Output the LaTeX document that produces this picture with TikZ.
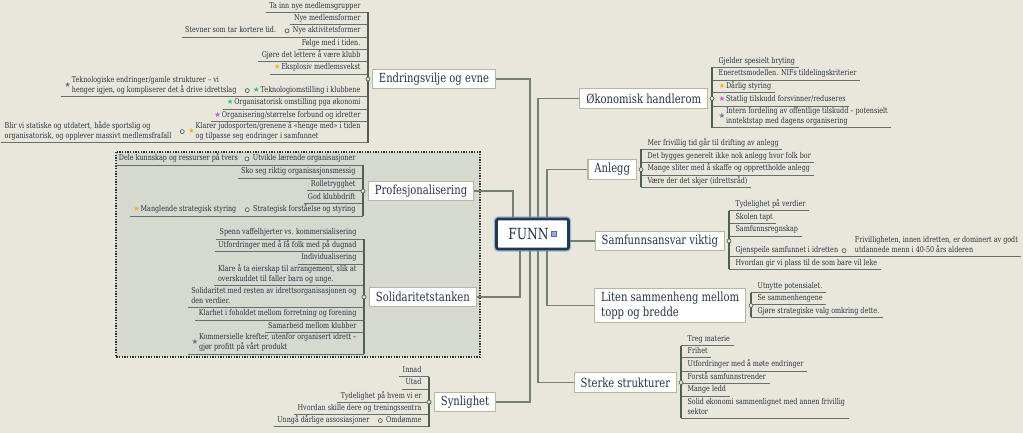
\documentclass[tikz,border=0pt]{standalone}
\usepackage{fontspec}
\setmainfont{DejaVu Serif}[FakeStretch=0.8]
\newfontfamily\starfont{DejaVu Sans}
\usetikzlibrary{positioning}
\definecolor{bg}{RGB}{233,231,220}
\definecolor{groupfill}{RGB}{213,217,207}
\definecolor{groupline}{RGB}{45,50,50}
\definecolor{ink}{RGB}{38,52,66}
\definecolor{boxline}{RGB}{185,181,160}
\definecolor{trunkcol}{RGB}{115,128,118}
\definecolor{barcol}{RGB}{78,96,86}
\definecolor{ulinecol}{RGB}{100,112,104}
\definecolor{funnline}{RGB}{35,55,78}
\definecolor{funnglow}{RGB}{150,180,215}
\definecolor{markfill}{RGB}{150,170,222}
\definecolor{markline}{RGB}{90,110,170}
\definecolor{starorange}{RGB}{242,180,40}
\definecolor{stargreen}{RGB}{40,200,120}
\definecolor{starpurple}{RGB}{200,90,210}
\definecolor{stargrey}{RGB}{110,115,150}
\newcommand{\leaffont}{\fontsize{6}{7.2}\selectfont}
\newcommand{\branchfont}{\fontsize{9.4}{11.5}\selectfont}
\newcommand{\tagstar}[1]{{\color{#1}\starfont\fontsize{5.6}{6}\selectfont ★}\hspace{0.6pt}}
\newcommand{\leaftwo}[2]{\begin{tabular}{@{}l@{}}#1\\#2\end{tabular}}

\begin{document}
\begin{tikzpicture}[x=0.75pt, y=-0.75pt,
    branch/.style={draw=boxline, fill=white, line width=0.8pt, text=ink, font=\branchfont,
      inner xsep=4.8pt, inner ysep=0pt, minimum height=14.5pt, align=left},
    leaf/.style={text=ink, font=\leaffont, inner xsep=2.5pt, inner ysep=0.8pt, execute at end node=\strut},
    lleaf/.style={leaf, anchor=south east},
    rleaf/.style={leaf, anchor=south west},
    uline/.style={draw=ulinecol, line width=0.6pt},
    bar/.style={draw=barcol, line width=0.9pt},
    trunk/.style={draw=trunkcol, line width=0.8pt},
    knob/.style={circle, draw=barcol, fill=bg, line width=0.5pt, inner sep=0pt, minimum size=3pt},
    funnbox/.style={draw=funnline, line width=2pt, fill=white, rounded corners=1.5pt,
      minimum width=54pt, minimum height=22.5pt,
      preaction={draw=funnglow, line width=4pt, rounded corners=1.5pt}},
    group/.style={draw=groupline, fill=groupfill, line width=1pt, dash pattern=on 1pt off 1pt}]
  \useasboundingbox (0,0) rectangle (1023,433);
  \fill[bg] (0,0) rectangle (1023,433);
  \path[group] (116,152) rectangle (480,357);
  %
  \node[funnbox] (funn) at (532.5,234) {};
  \node[text=ink, font=\fontsize{11.5}{13}\selectfont] (funntxt) at (528.5,234) {FUNN};
  \node[draw=markline, fill=markfill, line width=0.4pt, inner sep=0pt, minimum size=3.75pt] (funnmk) at (554,234) {};
  %
  % Endringsvilje og evne
  \coordinate (ev) at (368,0);
  \node[branch, anchor=west] (endr) at (372,79) {Endringsvilje og evne};
  \node[lleaf] (e1) at (364,12.3) {Ta inn nye medlemsgrupper};
  \node[lleaf] (e2) at (364,24.5) {Nye medlemsformer};
  \node[lleaf] (e3) at (364,37) {Nye aktivitetsformer};
  \node[knob, left=0pt of e3] (e3k) {};
  \node[lleaf] (e3s) at ([shift={(-5,0)}]e3k.west |- e3.south) {Stevner som tar kortere tid.};
  \node[lleaf] (e4) at (364,49.3) {Følge med i tiden.};
  \node[lleaf] (e5) at (364,61.8) {Gjøre det lettere å være klubb};
  \node[lleaf] (e6) at (364,74.2) {\tagstar{starorange}Eksplosiv medlemsvekst};
  \node[lleaf] (e7) at (364,96.7) {\tagstar{stargreen}Teknologiomstilling i klubbene};
  \node[knob, left=0pt of e7] (e7k) {};
  \node[lleaf] (e7s) at ([shift={(-5,0)}]e7k.west |- e7.south) {\tagstar{stargrey}\leaftwo{Teknologiske endringer/gamle strukturer – vi}{henger igjen, og kompliserer det å drive idrettslag}};
  \node[lleaf] (e8) at (364,109.2) {\tagstar{stargreen}Organisatorisk omstilling pga økonomi};
  \node[lleaf] (e9) at (364,121.7) {\tagstar{starpurple}Organisering/størrelse forbund og idretter};
  \node[lleaf] (e10) at (364,142.7) {\tagstar{starorange}\leaftwo{Klarer judosporten/grenene å «henge med» i tiden}{og tilpasse seg endringer i samfunnet}};
  \node[knob, left=0pt of e10] (e10k) {};
  \node[lleaf] (e10s) at ([shift={(-5,0)}]e10k.west |- e10.south) {\leaftwo{Blir vi statiske og utdatert, både sportslig og}{organisatorisk, og opplever massivt medlemsfrafall}};
  %
  % Profesjonalisering
  \coordinate (pv) at (363,0);
  \node[branch, anchor=west] (prof) at (368,191) {Profesjonalisering};
  \node[lleaf] (p1) at (359,165) {Utvikle lærende organisasjoner};
  \node[knob, left=0pt of p1] (p1k) {};
  \node[lleaf] (p1s) at ([shift={(-3,0)}]p1k.west |- p1.south) {Dele kunnskap og ressurser på tvers};
  \node[lleaf] (p2) at (359,178) {Sko seg riktig organisasjonsmessig};
  \node[lleaf] (p3) at (359,190.7) {Rolletrygghet};
  \node[lleaf] (p4) at (359,203.3) {God klubbdrift};
  \node[lleaf] (p5) at (359,216) {Strategisk forståelse og styring};
  \node[knob, left=0pt of p5] (p5k) {};
  \node[lleaf] (p5s) at ([shift={(-5,0)}]p5k.west |- p5.south) {\tagstar{starorange}Manglende strategisk styring};
  %
  % Solidaritetstanken
  \coordinate (sv) at (364,0);
  \node[branch, anchor=west] (soli) at (369,297) {Solidaritetstanken};
  \node[lleaf] (s1) at (360,239) {Spenn vaffelhjerter vs. kommersialisering};
  \node[lleaf] (s2) at (360,251.7) {Utfordringer med å få folk med på dugnad};
  \node[lleaf] (s3) at (360,264) {Individualisering};
  \node[lleaf] (s4) at (360,285.7) {\leaftwo{Klare å ta eierskap til arrangement, slik at}{overskuddet til faller barn og unge.}};
  \node[lleaf] (s5) at (360,307.3) {\leaftwo{Solidaritet med resten av idrettsorganisasjonen og}{den verdier.}};
  \node[lleaf] (s6) at (360,320) {Klarhet i foholdet mellom forretning og forening};
  \node[lleaf] (s7) at (360,332.7) {Samarbeid mellom klubber};
  \node[lleaf] (s8) at (360,354) {\tagstar{stargrey}\leaftwo{Kommersielle krefter, utenfor organisert idrett –}{gjør profitt på vårt produkt}};
  %
  % Synlighet
  \coordinate (yv) at (429,0);
  \node[branch, anchor=west] (synl) at (434,402) {Synlighet};
  \node[lleaf] (y1) at (425,376.7) {Innad};
  \node[lleaf] (y2) at (425,389) {Utad};
  \node[lleaf] (y3) at (425,402.3) {Tydelighet på hvem vi er};
  \node[lleaf] (y4) at (425,414.3) {Hvordan skille dere og treningssentra};
  \node[lleaf] (y5) at (425,426.7) {Omdømme};
  \node[knob, left=0pt of y5] (y5k) {};
  \node[lleaf] (y5s) at ([shift={(-5,0)}]y5k.west |- y5.south) {Unngå dårlige assosiasjoner};
  %
  % Økonomisk handlerom
  \coordinate (ov) at (712,0);
  \node[branch, anchor=east] (okon) at (708,98.5) {Økonomisk handlerom};
  \node[rleaf] (o1) at (715,67.3) {Gjelder spesielt bryting};
  \node[rleaf] (o2) at (715,80) {Enerettsmodellen. NIFs tildelingskriterier};
  \node[rleaf] (o3) at (715,92.7) {\tagstar{starorange}Dårlig styring};
  \node[rleaf] (o4) at (715,106) {\tagstar{starpurple}Statlig tilskudd forsvinner/reduseres};
  \node[rleaf] (o5) at (715,127.7) {\tagstar{stargrey}\leaftwo{Intern fordeling av offentlige tilskudd – potensielt}{inntektstap med dagens organisering}};
  %
  % Anlegg
  \coordinate (av) at (641,0);
  \node[branch, anchor=east] (anl) at (637,169.5) {Anlegg};
  \node[rleaf] (a1) at (644,149.3) {Mer frivillig tid går til drifting av anlegg};
  \node[rleaf] (a2) at (644,162.3) {Det bygges generelt ikke nok anlegg hvor folk bor};
  \node[rleaf] (a3) at (644,175) {Mange sliter med å skaffe og opprettholde anlegg};
  \node[rleaf] (a4) at (644,187.3) {Være der det skjer (idrettsråd)};
  %
  % Samfunnsansvar viktig
  \coordinate (fv) at (729,0);
  \node[branch, anchor=east] (samf) at (725,241) {Samfunnsansvar viktig};
  \node[rleaf] (f1) at (732,210.7) {Tydelighet på verdier};
  \node[rleaf] (f2) at (732,223.3) {Skolen tapt};
  \node[rleaf] (f3) at (732,236) {Samfunnsregnskap};
  \node[rleaf] (f4) at (732,256.7) {Gjenspeile samfunnet i idretten};
  \node[knob, right=0pt of f4] (f4k) {};
  \node[rleaf] (f4s) at ([shift={(5,0)}]f4k.east |- f4.south) {\leaftwo{Frivilligheten, innen idretten, er dominert av godt}{utdannede menn i 40-50 års alderen}};
  \node[rleaf] (f5) at (732,269.3) {Hvordan gir vi plass til de som bare vil leke};
  %
  % Liten sammenheng
  \coordinate (lv) at (751,0);
  \node[branch, anchor=east, inner ysep=2.5pt] (liten) at (746,305.5) {Liten sammenheng mellom\\topp og bredde};
  \node[rleaf] (l1) at (754,292.7) {Utnytte potensialet.};
  \node[rleaf] (l2) at (754,304.3) {Se sammenhengene};
  \node[rleaf] (l3) at (754,317.3) {Gjøre strategiske valg omkring dette.};
  %
  % Sterke strukturer
  \coordinate (tv) at (681,0);
  \node[branch, anchor=east] (sterk) at (677,382.5) {Sterke strukturer};
  \node[rleaf] (t1) at (684,345.7) {Treg materie};
  \node[rleaf] (t2) at (684,357.7) {Frihet};
  \node[rleaf] (t3) at (684,371) {Utfordringer med å møte endringer};
  \node[rleaf] (t4) at (684,383.3) {Forstå samfunnstrender};
  \node[rleaf] (t5) at (684,396) {Mange ledd};
  \node[rleaf] (t6) at (684,418.3) {\leaftwo{Solid økonomi sammenlignet med annen frivillig}{sektor}};
  %
  % trunks from FUNN
  \draw[trunk] (endr.east) -| ([shift={(-2.5,0)}]funn.north);
  \draw[trunk] (prof.east) -| ([shift={(-19.5,0)}]funn.north);
  \draw[trunk] (soli.east) -| ([shift={(-12.5,0)}]funn.south);
  \draw[trunk] (synl.east) -| ([shift={(-2.5,0)}]funn.south);
  \draw[trunk] (okon.west) -| ([shift={(5.5,0)}]funn.north);
  \draw[trunk] (anl.west) -| ([shift={(14.5,0)}]funn.north);
  \draw[trunk] (samf.west) -- (samf.west -| funn.east);
  \draw[trunk] (liten.west) -| ([shift={(14.5,0)}]funn.south);
  \draw[trunk] (sterk.west) -| ([shift={(5.5,0)}]funn.south);
  %
  % underlines
  \draw[uline] (e1.south west) -- (e1.south -| ev);
  \draw[uline] (e2.south west) -- (e2.south -| ev);
  \draw[uline] (e3s.south west) -- (e3.south -| ev);
  \draw[uline] (e4.south west) -- (e4.south -| ev);
  \draw[uline] (e5.south west) -- (e5.south -| ev);
  \draw[uline] (e6.south west) -- (e6.south -| ev);
  \draw[uline] (e7s.south west) -- (e7.south -| ev);
  \draw[uline] (e8.south west) -- (e8.south -| ev);
  \draw[uline] (e9.south west) -- (e9.south -| ev);
  \draw[uline] (e10s.south west) -- (e10.south -| ev);
  \draw[uline] (p1s.south west) -- (p1.south -| pv);
  \draw[uline] (p2.south west) -- (p2.south -| pv);
  \draw[uline] (p3.south west) -- (p3.south -| pv);
  \draw[uline] (p4.south west) -- (p4.south -| pv);
  \draw[uline] (p5s.south west) -- (p5.south -| pv);
  \draw[uline] (s1.south west) -- (s1.south -| sv);
  \draw[uline] (s2.south west) -- (s2.south -| sv);
  \draw[uline] (s3.south west) -- (s3.south -| sv);
  \draw[uline] (s4.south west) -- (s4.south -| sv);
  \draw[uline] (s5.south west) -- (s5.south -| sv);
  \draw[uline] (s6.south west) -- (s6.south -| sv);
  \draw[uline] (s7.south west) -- (s7.south -| sv);
  \draw[uline] (s8.south west) -- (s8.south -| sv);
  \draw[uline] (y1.south west) -- (y1.south -| yv);
  \draw[uline] (y2.south west) -- (y2.south -| yv);
  \draw[uline] (y3.south west) -- (y3.south -| yv);
  \draw[uline] (y4.south west) -- (y4.south -| yv);
  \draw[uline] (y5s.south west) -- (y5.south -| yv);
  \draw[uline] (o1.south -| ov) -- (o1.south east);
  \draw[uline] (o2.south -| ov) -- (o2.south east);
  \draw[uline] (o3.south -| ov) -- (o3.south east);
  \draw[uline] (o4.south -| ov) -- (o4.south east);
  \draw[uline] (o5.south -| ov) -- (o5.south east);
  \draw[uline] (a1.south -| av) -- (a1.south east);
  \draw[uline] (a2.south -| av) -- (a2.south east);
  \draw[uline] (a3.south -| av) -- (a3.south east);
  \draw[uline] (a4.south -| av) -- (a4.south east);
  \draw[uline] (f1.south -| fv) -- (f1.south east);
  \draw[uline] (f2.south -| fv) -- (f2.south east);
  \draw[uline] (f3.south -| fv) -- (f3.south east);
  \draw[uline] (f4.south -| fv) -- (f4s.south east);
  \draw[uline] (f5.south -| fv) -- (f5.south east);
  \draw[uline] (l1.south -| lv) -- (l1.south east);
  \draw[uline] (l2.south -| lv) -- (l2.south east);
  \draw[uline] (l3.south -| lv) -- (l3.south east);
  \draw[uline] (t1.south -| tv) -- (t1.south east);
  \draw[uline] (t2.south -| tv) -- (t2.south east);
  \draw[uline] (t3.south -| tv) -- (t3.south east);
  \draw[uline] (t4.south -| tv) -- (t4.south east);
  \draw[uline] (t5.south -| tv) -- (t5.south east);
  \draw[uline] (t6.south -| tv) -- (t6.south east);
  %
  % brackets and knobs
  \draw[bar] (e1.south -| ev) -- (e10.south -| ev);
  \draw[bar] (p1.south -| pv) -- (p5.south -| pv);
  \draw[bar] (s1.south -| sv) -- (s8.south -| sv);
  \draw[bar] (y1.south -| yv) -- (y5.south -| yv);
  \draw[bar] (o1.south -| ov) -- (o5.south -| ov);
  \draw[bar] (a1.south -| av) -- (a4.south -| av);
  \draw[bar] (f1.south -| fv) -- (f5.south -| fv);
  \draw[bar] (l1.south -| lv) -- (l3.south -| lv);
  \draw[bar] (t1.south -| tv) -- (t6.south -| tv);
  \node[knob] (endrk) at (endr.west -| ev) {};
  \node[knob] (profk) at (prof.west -| pv) {};
  \node[knob] (solik) at (soli.west -| sv) {};
  \node[knob] (synlk) at (synl.west -| yv) {};
  \node[knob] (okonk) at (okon.east -| ov) {};
  \node[knob] (anlk) at (anl.east -| av) {};
  \node[knob] (samfk) at (samf.east -| fv) {};
  \node[knob] (litenk) at (liten.east -| lv) {};
  \node[knob] (sterkk) at (sterk.east -| tv) {};
\end{tikzpicture}
\end{document}
